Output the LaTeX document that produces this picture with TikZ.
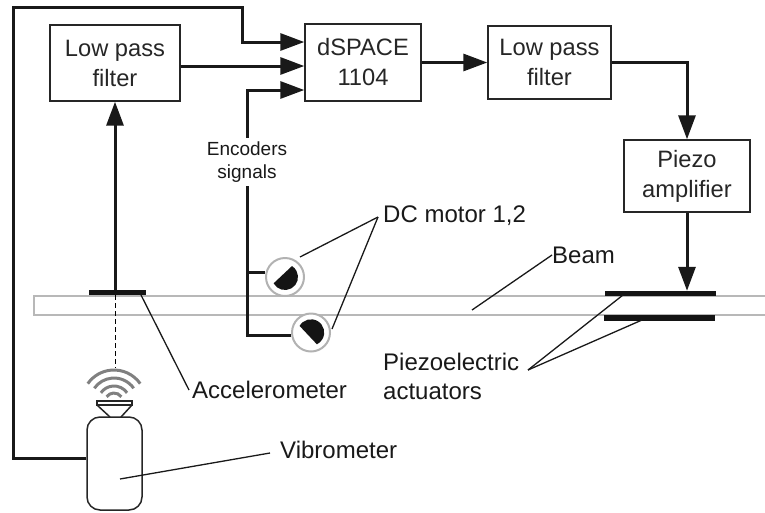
\documentclass[tikz,border=0pt]{standalone}
\usepackage{fontspec}
\setmainfont{Liberation Sans}
\usetikzlibrary{arrows.meta,calc}
\tikzset{
  blockbox/.style={draw=black!85,line width=1.4pt,inner sep=0pt,align=center,font=\fontsize{23.7}{30}\selectfont,text=black!85},
  wire/.style={draw=black!90,line width=3pt},
  sig/.style={wire,-{Triangle[length=24pt,width=17pt]}},
  leader/.style={draw=black!90,line width=1.3pt},
  lab/.style={font=\fontsize{24}{29}\selectfont,align=left,text=black!90,inner sep=0pt},
  barfill/.style={draw=none,fill=black!92},
  beamline/.style={draw=black!28,line width=2pt},
  wave/.style={draw=black!50,line width=3pt},
  outline/.style={draw=black!85,line width=1.5pt},
  motorring/.style={circle,draw=black!30,line width=2pt,fill=white,minimum size=38pt,inner sep=0pt},
}
\begin{document}
\begin{tikzpicture}[x=1pt,y=-1pt]
\useasboundingbox (0,0) rectangle (765,512);
% beam
\draw[beamline] (765,295.5) -- (34,295.5) -- (34,315) -- (765,315);
% blocks
\node[blockbox,minimum width=130pt,minimum height=76pt] (lpa) at (115,63) {Low pass\\filter};
\node[blockbox,minimum width=116pt,minimum height=77pt] (ds) at (363,62.5) {dSPACE\\1104};
\node[blockbox,minimum width=123pt,minimum height=73pt] (lpb) at (549.5,62.5) {Low pass\\filter};
\node[blockbox,minimum width=126pt,minimum height=72pt] (pz) at (687,176) {Piezo\\amplifier};
% sensors and bars
\node[barfill,minimum width=57pt,minimum height=5pt,inner sep=0pt] (acc) at (117.5,292.5) {};
\node[barfill,minimum width=111pt,minimum height=5pt,inner sep=0pt] (pa) at (660.5,293.5) {};
\node[barfill,minimum width=111pt,minimum height=6pt,inner sep=0pt] (pb) at (659.5,318) {};
% motors
\node[motorring] (m1) at (285,277) {};
\node[motorring] (m2) at (311,332.5) {};
\fill[black!92] (m1.center) ++(151:13) arc[start angle=151,end angle=-57.5,radius=13] -- cycle;
\fill[black!92] (m2.center) ++(210:13.2) arc[start angle=210,end angle=423.4,radius=13.2] -- cycle;
% vibrometer
\node[outline,draw,rounded corners=13pt,minimum width=55pt,minimum height=93pt,inner sep=0pt] (vib) at (114.5,463.5) {};
\draw[outline] (97,401) -- (132,401) -- (132,405) -- (97,405) -- cycle;
\draw[outline] (97,405) -- (110,417) (132,405) -- (121,417);
\foreach \r in {32,24,16,9}{
  \draw[wave] ($(114,402)+(35:\r pt)$) arc[start angle=35,end angle=145,radius=\r pt];
}
\coordinate (wavetop) at (115,368);
\draw[black,line width=1pt,dash pattern=on 5pt off 3pt] (115,295) -- (wavetop);
% signal wires
\coordinate (t1) at (13,458);
\coordinate (t2) at (13,7);
\coordinate (t3) at (242,7);
\coordinate (t4) at (242,42);
\coordinate (dsA) at (ds.west |- t4);
\coordinate (dsB) at (ds.west |- 0,66);
\coordinate (dsC) at (ds.west |- 0,90);
\coordinate (bus) at (247,90);
\coordinate (busb) at (247,335);
\coordinate (busm) at (247,272);
\draw[sig] (vib.west |- t1) -- (t1) -- (t2) -- (t3) -- (t4) -- (dsA);
\draw[sig] (lpa.east |- dsB) -- (dsB);
\draw[wire] (m2.west |- busb) -- (busb) -- (busm);
\draw[wire] (busm) -- (m1.west |- busm);
\draw[sig] (busm) -- (bus) -- (dsC);
\draw[sig] (acc.north -| 115,0) -- (lpa.south -| 115,0);
\draw[sig] (ds.east) -- (lpb.west);
\draw[sig] (lpb.east) -- (lpb.east -| pz.north) -- (pz.north);
\draw[sig] (pz.south) -- (pz.south |- pa.north);
% labels
\node[fill=white,inner sep=0pt,minimum height=48pt,align=center,font=\fontsize{19}{23}\selectfont,text=black!90] (enc) at (247,162) {Encoders\\signals};
\node[lab,anchor=west] (dcm) at (383,216) {DC motor 1,2};
\node[lab,anchor=west] (beam) at (552,255) {Beam};
\node[lab,anchor=west] (pe) at (383,376) {Piezoelectric\\actuators};
\node[lab,anchor=west] (acl) at (192,390) {Accelerometer};
\node[lab,anchor=west] (vb) at (280,450) {Vibrometer};
% leaders
\coordinate (dc1) at (300,257);
\coordinate (dc2) at (332,329);
\coordinate (bm) at (472,310);
\coordinate (ac) at (141,295);
\coordinate (vi) at (120,479);
\coordinate (pe1) at (623,295);
\coordinate (pe2) at (642,320);
\coordinate (pej) at (528,370);
\draw[leader] (dcm.west) ++(-5,1) -- (dc1);
\draw[leader] (dcm.west) ++(-5,1) -- (dc2);
\draw[leader] (beam.west) -- (bm);
\draw[leader] (acl.west) ++(-3,0) -- (ac);
\draw[leader] (vb.west) ++(-10,3) -- (vi);
\draw[leader] (pej) -- (pe1);
\draw[leader] (pej) -- (pe2);
\end{tikzpicture}
\end{document}
